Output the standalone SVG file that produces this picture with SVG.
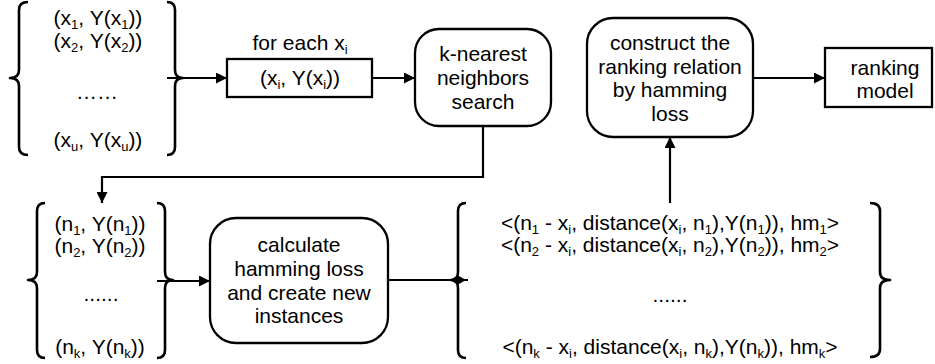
<svg xmlns="http://www.w3.org/2000/svg" width="935" height="364" viewBox="0 0 935 364">
  <style>
    .t { font-family: "Liberation Sans", Arial, sans-serif; font-size: 21px; fill: #000; text-anchor: middle; }
    .s { font-size: 13px; }
    .box { fill: #fff; stroke: #000; stroke-width: 2.3; }
    .br { fill: none; stroke: #000; stroke-width: 2.6; stroke-linejoin: round; }
    .ln { fill: none; stroke: #000; stroke-width: 2.2; }
  </style>
  <defs>
    <marker id="arr" viewBox="0 0 10 10" refX="10" refY="5" markerWidth="11" markerHeight="11" markerUnits="userSpaceOnUse" orient="auto">
      <path d="M0,0 L10,5 L0,10 Z" fill="#000"/>
    </marker>
  </defs>
  <rect width="935" height="364" fill="#fff"/>

  <!-- input set of labelled samples -->
  <g id="input-set">
    <path class="br" d="M28,2 Q19,2 19,10 L19,70 Q19,78 10,78 Q19,78 19,86 L19,147 Q19,155 28,155"/>
    <path class="br" d="M167,2 Q175,2 175,10 L175,70 Q175,78 183,78 Q175,78 175,86 L175,147 Q175,155 167,155"/>
    <text class="t" x="98" y="25">(x<tspan class="s" dy="4">1</tspan><tspan dy="-4">, Y(x</tspan><tspan class="s" dy="4">1</tspan><tspan dy="-4">))</tspan></text>
    <text class="t" x="98" y="48">(x<tspan class="s" dy="4">2</tspan><tspan dy="-4">, Y(x</tspan><tspan class="s" dy="4">2</tspan><tspan dy="-4">))</tspan></text>
    <text class="t" x="97" y="99">……</text>
    <text class="t" x="98" y="147">(x<tspan class="s" dy="4">u</tspan><tspan dy="-4">, Y(x</tspan><tspan class="s" dy="4">u</tspan><tspan dy="-4">))</tspan></text>
  </g>

  <!-- current sample -->
  <g id="current-sample">
    <text class="t" x="300" y="50">for each x<tspan class="s" dy="4">i</tspan></text>
    <rect class="box" x="227" y="59" width="145" height="38"/>
    <text class="t" x="300" y="85">(x<tspan class="s" dy="4">i</tspan><tspan dy="-4">, Y(x</tspan><tspan class="s" dy="4">i</tspan><tspan dy="-4">))</tspan></text>
  </g>

  <!-- neighbour search -->
  <g id="knn-search">
    <rect class="box" x="415" y="29" width="136" height="97" rx="24"/>
    <text class="t" x="483" y="61">k-nearest</text>
    <text class="t" x="483" y="85">neighbors</text>
    <text class="t" x="483" y="109">search</text>
  </g>

  <!-- ranking relation -->
  <g id="ranking-relation">
    <rect class="box" x="587" y="18" width="166" height="119" rx="26"/>
    <text class="t" x="670" y="50">construct the</text>
    <text class="t" x="670" y="73.5">ranking relation</text>
    <text class="t" x="670" y="97">by hamming</text>
    <text class="t" x="670" y="120.5">loss</text>
  </g>

  <!-- output model -->
  <g id="ranking-model">
    <rect class="box" x="825" y="48" width="107" height="59"/>
    <text class="t" x="885" y="75">ranking</text>
    <text class="t" x="885" y="98">model</text>
  </g>

  <!-- neighbour set -->
  <g id="neighbor-set">
    <path class="br" d="M45,203 Q37,203 37,211 L37,272 Q37,280 28,280 Q37,280 37,288 L37,350 Q37,358 45,358"/>
    <path class="br" d="M157,203 Q165,203 165,211 L165,272 Q165,280 173,280 Q165,280 165,288 L165,350 Q165,358 157,358"/>
    <text class="t" x="100" y="231">(n<tspan class="s" dy="4">1</tspan><tspan dy="-4">, Y(n</tspan><tspan class="s" dy="4">1</tspan><tspan dy="-4">))</tspan></text>
    <text class="t" x="100" y="253">(n<tspan class="s" dy="4">2</tspan><tspan dy="-4">, Y(n</tspan><tspan class="s" dy="4">2</tspan><tspan dy="-4">))</tspan></text>
    <text class="t" x="101" y="301">......</text>
    <text class="t" x="100" y="354">(n<tspan class="s" dy="4">k</tspan><tspan dy="-4">, Y(n</tspan><tspan class="s" dy="4">k</tspan><tspan dy="-4">))</tspan></text>
  </g>

  <!-- hamming loss step -->
  <g id="hamming-loss">
    <rect class="box" x="210" y="218" width="178" height="125" rx="26"/>
    <text class="t" x="299" y="252">calculate</text>
    <text class="t" x="299" y="276">hamming loss</text>
    <text class="t" x="299" y="300">and create new</text>
    <text class="t" x="299" y="323">instances</text>
  </g>

  <!-- new instances -->
  <g id="new-instances">
    <path class="br" d="M466,203 Q458,203 458,211 L458,272 Q458,280 451,280 Q458,280 458,288 L458,350 Q458,358 466,358"/>
    <path class="br" d="M870,203 Q880,203 880,211 L880,272 Q880,280 890,280 Q880,280 880,288 L880,349 Q880,357 870,357"/>
    <text class="t" x="670" y="230">&lt;(n<tspan class="s" dy="4">1</tspan><tspan dy="-4"> - x</tspan><tspan class="s" dy="4">i</tspan><tspan dy="-4">, distance(x</tspan><tspan class="s" dy="4">i</tspan><tspan dy="-4">, n</tspan><tspan class="s" dy="4">1</tspan><tspan dy="-4">),Y(n</tspan><tspan class="s" dy="4">1</tspan><tspan dy="-4">)), hm</tspan><tspan class="s" dy="4">1</tspan><tspan dy="-4">&gt;</tspan></text>
    <text class="t" x="670" y="252">&lt;(n<tspan class="s" dy="4">2</tspan><tspan dy="-4"> - x</tspan><tspan class="s" dy="4">i</tspan><tspan dy="-4">, distance(x</tspan><tspan class="s" dy="4">i</tspan><tspan dy="-4">, n</tspan><tspan class="s" dy="4">2</tspan><tspan dy="-4">),Y(n</tspan><tspan class="s" dy="4">2</tspan><tspan dy="-4">)), hm</tspan><tspan class="s" dy="4">2</tspan><tspan dy="-4">&gt;</tspan></text>
    <text class="t" x="670" y="302">......</text>
    <text class="t" x="670" y="354">&lt;(n<tspan class="s" dy="4">k</tspan><tspan dy="-4"> - x</tspan><tspan class="s" dy="4">i</tspan><tspan dy="-4">, distance(x</tspan><tspan class="s" dy="4">i</tspan><tspan dy="-4">, n</tspan><tspan class="s" dy="4">k</tspan><tspan dy="-4">),Y(n</tspan><tspan class="s" dy="4">k</tspan><tspan dy="-4">)), hm</tspan><tspan class="s" dy="4">k</tspan><tspan dy="-4">&gt;</tspan></text>
  </g>

  <!-- connectors -->
  <g id="connectors">
    <line class="ln" x1="167" y1="78" x2="227" y2="78" marker-end="url(#arr)"/>
    <line class="ln" x1="372" y1="78" x2="415" y2="78" marker-end="url(#arr)"/>
    <polyline class="ln" points="483,126 483,177 102,177 102,203" marker-end="url(#arr)"/>
    <line class="ln" x1="157" y1="281" x2="210" y2="281" marker-end="url(#arr)"/>
    <line class="ln" x1="388" y1="280" x2="468" y2="280"/>
    <path d="M450,280 L458,275.5 L466,280 L458,284.5 Z" fill="#000"/>
    <line class="ln" x1="670" y1="203" x2="670" y2="137" marker-end="url(#arr)"/>
    <line class="ln" x1="753" y1="78" x2="825" y2="78" marker-end="url(#arr)"/>
  </g>
</svg>
